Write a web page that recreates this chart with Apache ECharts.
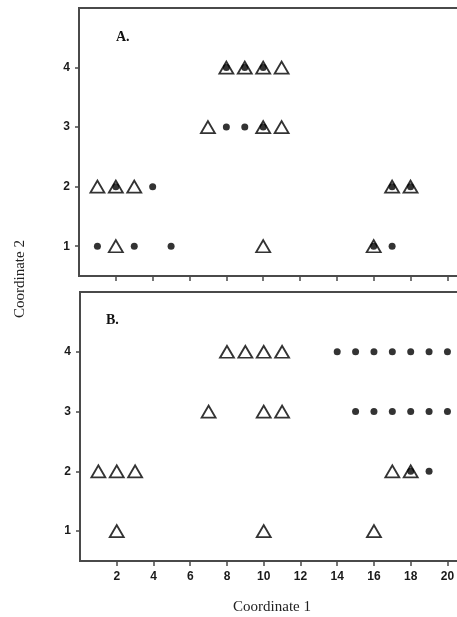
<!DOCTYPE html>
<html>
<head>
<meta charset="utf-8">
<script src="https://cdn.jsdelivr.net/npm/echarts@6/dist/echarts.min.js"></script>
<style>html,body{margin:0;padding:0;background:#fff;overflow:hidden}#c{width:475px;height:617px}</style>
</head>
<body>
<div id="c"></div>
<script>
// Panel A
var trianglesA = [[8,4],[9,4],[10,4],[11,4],[7,3],[10,3],[11,3],[1,2],[2,2],[3,2],[17,2],[18,2],[2,1],[10,1],[16,1]];
var dotsA = [[8,4],[9,4],[10,4],[8,3],[9,3],[10,3],[2,2],[4,2],[17,2],[18,2],[1,1],[3,1],[5,1],[16,1],[17,1]];
// Panel B
var trianglesB = [[8,4],[9,4],[10,4],[11,4],[7,3],[10,3],[11,3],[1,2],[2,2],[3,2],[17,2],[18,2],[2,1],[10,1],[16,1]];
var dotsB = [[14,4],[15,4],[16,4],[17,4],[18,4],[19,4],[20,4],[15,3],[16,3],[17,3],[18,3],[19,3],[20,3],[18,2],[19,2]];
var xTicks = [2,4,6,8,10,12,14,16,18,20];
var yTicks = [1,2,3,4];

var chart = echarts.init(document.getElementById('c'));
var frameColor = '#4a4a4a';
var tickFont = {color:'#1a1a1a', fontFamily:'Liberation Sans', fontSize:12, fontWeight:'bold'};
function xAxis(idx, showLabel){
  return {type:'value', gridIndex:idx, min:0, max:21.5,
    axisLine:{show:false}, splitLine:{show:false},
    axisTick:{show:true, inside:false, length:5, customValues:xTicks, lineStyle:{color:frameColor, width:1.5}},
    axisLabel:Object.assign({show:showLabel, margin:10, customValues:xTicks}, tickFont)};
}
function yAxis(idx){
  return {type:'value', gridIndex:idx, min:0.5, max:5,
    axisLine:{show:false}, splitLine:{show:false},
    axisTick:{show:true, inside:false, length:4, customValues:yTicks, lineStyle:{color:frameColor, width:1.5}},
    axisLabel:Object.assign({show:true, margin:9, customValues:yTicks}, tickFont)};
}
function tri(idx, data){
  return {type:'scatter', xAxisIndex:idx, yAxisIndex:idx, data:data, symbol:'triangle', symbolSize:[14,12],
    itemStyle:{color:'#fff', borderColor:'#000', borderWidth:1.8}, z:2, silent:true};
}
function dot(idx, data){
  return {type:'scatter', xAxisIndex:idx, yAxisIndex:idx, data:data, symbol:'circle', symbolSize:7,
    itemStyle:{color:'#000'}, z:3, silent:true};
}
chart.setOption({
  animation:false,
  grid:[
    {left:79, top:8, height:268, right:0, show:true, borderColor:frameColor, borderWidth:2, backgroundColor:'#fff'},
    {left:80, top:292, height:269, right:0, show:true, borderColor:frameColor, borderWidth:2, backgroundColor:'#fff'}
  ],
  xAxis:[xAxis(0,false), xAxis(1,true)],
  yAxis:[yAxis(0), yAxis(1)],
  series:[tri(0,trianglesA), dot(0,dotsA), tri(1,trianglesB), dot(1,dotsB)],
  graphic:[
    {type:'text', left:116, top:30, style:{text:'A.', fontFamily:'Liberation Serif', fontWeight:'bold', fontSize:14, fill:'#111'}},
    {type:'text', left:106, top:313, style:{text:'B.', fontFamily:'Liberation Serif', fontWeight:'bold', fontSize:14, fill:'#111'}},
    {type:'text', x:272, y:607, style:{text:'Coordinate 1', fontFamily:'Liberation Serif', fontSize:15, fill:'#222', align:'center', verticalAlign:'middle'}},
    {type:'text', x:20, y:279, rotation:Math.PI/2, style:{text:'Coordinate 2', fontFamily:'Liberation Serif', fontSize:15, fill:'#222', align:'center', verticalAlign:'middle'}}
  ]
});
</script>
</body>
</html>
